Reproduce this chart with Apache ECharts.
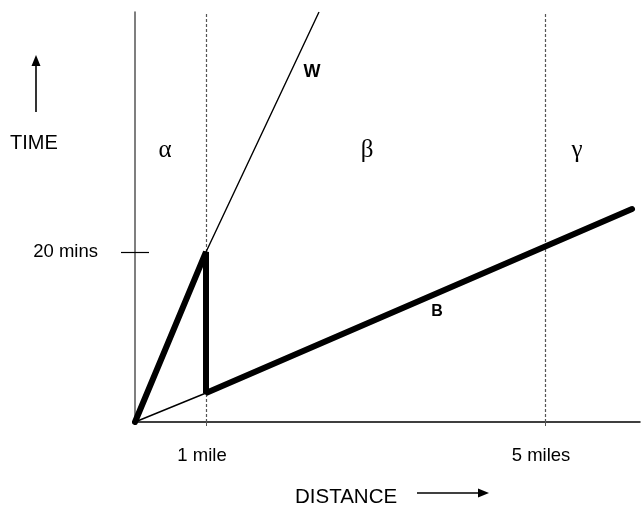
<!DOCTYPE html>
<html><head><meta charset="utf-8">
<script src="https://cdn.jsdelivr.net/npm/echarts@6/dist/echarts.min.js"></script>
<style>html,body{margin:0;padding:0;background:#fff}#c{width:641px;height:506px}</style>
</head><body><div id="c"></div>
<script>
// Schematic units (distance / time along the drawn axes)
const xMax = 505, yMax = 410;
const xTickValues = [71, 410];
const xTickLabels = ['1 mile', '5 miles'];
const yTickValues = [170];
const yTickLabels = ['20 mins'];
const walkLine = [[0, 0], [71, 170], [184, 410]];       // W
const busLine = [[0, 0], [71, 29], [497, 213]];         // B
const journey = [[0, 0], [71, 170], [71, 29], [497, 213]]; // thick path
const regionNames = ['α', 'β', 'γ'];
const regionAt = [[30, 272], [232, 272], [442, 272]];
const lineNames = ['W', 'B'];
const lineNameAt = [[177, 350], [302, 110]];
const lineNameSizes = [18, 16];

const chart = echarts.init(document.getElementById('c'), null, {renderer: 'canvas'});
const sans = 'Liberation Sans, Arial, sans-serif';
chart.setOption({
  animation: false,
  backgroundColor: '#fff',
  grid: {left: 135, top: 12, width: xMax, height: yMax, containLabel: false},
  xAxis: {
    type: 'value', min: 0, max: xMax,
    splitLine: {show: false},
    axisLine: {onZero: false, lineStyle: {color: '#000', width: 1.5}},
    axisTick: {customValues: xTickValues, length: 4, lineStyle: {color: '#555'}},
    axisLabel: {customValues: xTickValues, margin: 24, padding: [0, 8, 0, 0], fontFamily: sans, fontSize: 18.5, color: '#000',
      formatter: v => xTickLabels[xTickValues.indexOf(v)] || ''}
  },
  yAxis: [{
    type: 'value', min: 0, max: yMax,
    splitLine: {show: false},
    axisLine: {show: true, onZero: false, lineStyle: {color: '#555', width: 1.5}},
    axisTick: {customValues: yTickValues, length: 14, lineStyle: {color: '#000', width: 1.2}},
    axisLabel: {customValues: yTickValues, margin: 37, fontFamily: sans, fontSize: 18.5, color: '#000',
      formatter: v => yTickLabels[yTickValues.indexOf(v)] || ''}
  }, {
    type: 'value', min: 0, max: yMax, position: 'left',
    splitLine: {show: false},
    axisLine: {show: false},
    axisTick: {inside: true, customValues: yTickValues, length: 14, lineStyle: {color: '#000', width: 1.2}},
    axisLabel: {show: false}
  }],
  series: [
    {type: 'line', data: walkLine, symbol: 'none', lineStyle: {color: '#000', width: 1.4}, z: 3,
      markLine: {silent: true, symbol: 'none', label: {show: false}, z: 1,
        lineStyle: {color: '#555', type: [3, 2], width: 1.2},
        data: xTickValues.map(v => ({xAxis: v}))}},
    {type: 'line', data: busLine, symbol: 'none', lineStyle: {color: '#000', width: 1.4}, z: 3},
    {type: 'line', data: journey, symbol: 'none', lineStyle: {color: '#000', width: 6, cap: 'round', join: 'bevel'}, z: 10},
    {type: 'scatter', symbolSize: 0, z: 11, itemStyle: {opacity: 1},
      data: regionAt.map((p, i) => ({value: p, name: regionNames[i]})),
      label: {show: true, position: 'inside', formatter: '{b}', fontFamily: 'Liberation Serif, Times New Roman, serif', fontSize: 25, color: '#000'}},
    {type: 'scatter', symbolSize: 0, z: 11, itemStyle: {opacity: 1},
      data: lineNameAt.map((p, i) => ({value: p, name: lineNames[i], label: {fontSize: lineNameSizes[i]}})),
      label: {show: true, position: 'inside', formatter: '{b}', fontFamily: sans, fontWeight: 'bold', color: '#000'}}
  ],
  graphic: [
    {type: 'text', x: 10, y: 143, style: {text: 'TIME', font: '20px ' + sans, fill: '#000', verticalAlign: 'middle'}},
    {type: 'line', shape: {x1: 36, y1: 112, x2: 36, y2: 64}, style: {stroke: '#000', lineWidth: 1.6}},
    {type: 'polygon', shape: {points: [[36, 55], [31.5, 66], [40.5, 66]]}, style: {fill: '#000'}},
    {type: 'text', x: 295, y: 497, style: {text: 'DISTANCE', font: '20.5px ' + sans, fill: '#000', verticalAlign: 'middle'}},
    {type: 'line', shape: {x1: 417, y1: 493, x2: 480, y2: 493}, style: {stroke: '#000', lineWidth: 1.6}},
    {type: 'polygon', shape: {points: [[489, 493], [478, 488.5], [478, 497.5]]}, style: {fill: '#000'}}
  ]
});
</script></body></html>
